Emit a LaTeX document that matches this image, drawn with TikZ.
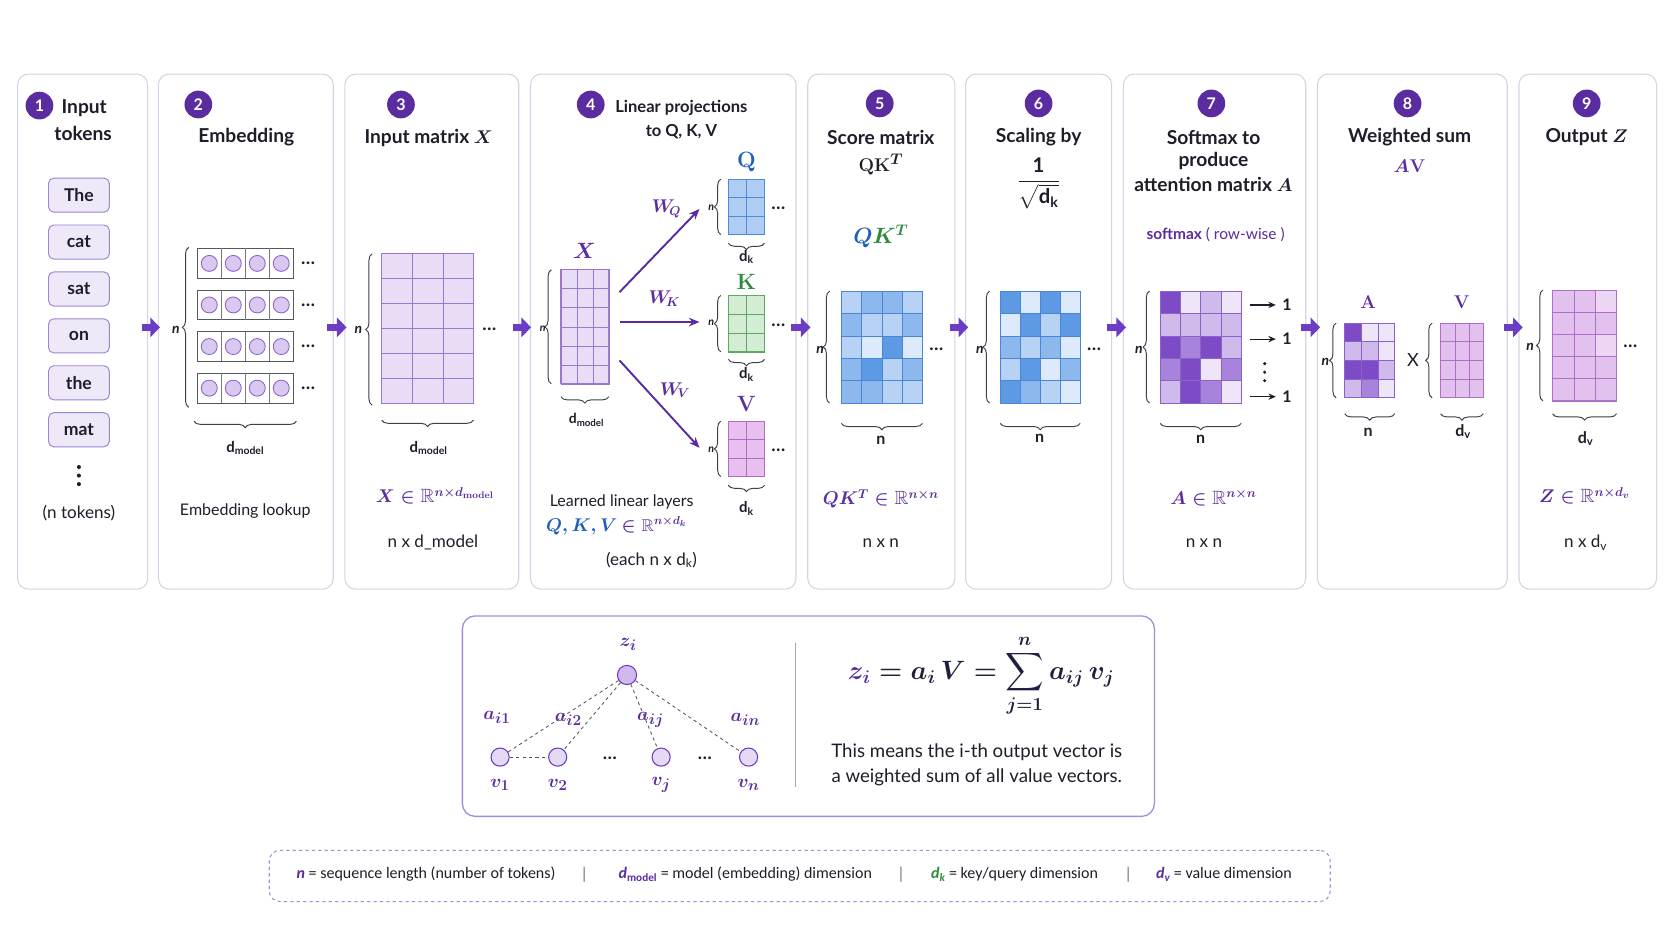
\documentclass[tikz,border=0pt]{standalone}
\usepackage{amsmath,amssymb,bm}
\usepackage[no-math]{fontspec}
\setmainfont{Lato}
\newfontfamily\legfont{Carlito}
\usetikzlibrary{decorations.pathreplacing,arrows.meta,calc}
\definecolor{pdark}{HTML}{5A2CA0}
\definecolor{ptext}{HTML}{5B2D9E}
\definecolor{qblue}{HTML}{1F5FBF}
\definecolor{kgreen}{HTML}{2E8B3E}
\definecolor{ink}{HTML}{1E1E2A}
\definecolor{navy}{HTML}{1F2040}
\definecolor{panelbd}{HTML}{D6D4E4}
\definecolor{arrowp}{HTML}{6B3CC6}
\definecolor{tokfill}{HTML}{EEE8F9}
\definecolor{tokbd}{HTML}{9D85D6}
\definecolor{boxbd}{HTML}{A58AE0}
\definecolor{bh0}{HTML}{DDEAFB}\definecolor{bh1}{HTML}{B7D2F4}\definecolor{bh2}{HTML}{8DB8EE}\definecolor{bh3}{HTML}{5E9AE3}\definecolor{bhbd}{HTML}{4A86D8}
\definecolor{ph0}{HTML}{EEE6F8}\definecolor{ph1}{HTML}{D0BAEC}\definecolor{ph2}{HTML}{A883DB}\definecolor{ph3}{HTML}{7D4BC6}\definecolor{phbd}{HTML}{8A63C9}
\definecolor{xh0}{HTML}{E9DDF6}\definecolor{xhbd}{HTML}{9A78CF}
\definecolor{qh0}{HTML}{AFCDF2}\definecolor{qhbd}{HTML}{4D8AD9}
\definecolor{kh0}{HTML}{D4EBD4}\definecolor{khbd}{HTML}{5FA85F}
\definecolor{vh0}{HTML}{E8C0EF}\definecolor{vhbd}{HTML}{B36BC5}
\definecolor{pk0}{HTML}{EDD6F4}\definecolor{pk1}{HTML}{E2C1EF}\definecolor{pk2}{HTML}{D6A9E8}\definecolor{pkbd}{HTML}{B070C8}
\newcommand{\heat}[9]{%
  \pgfmathsetmacro\cw{#4/#6}\pgfmathsetmacro\ch{#5/#7}%
  \foreach \rowv [count=\ri from 0] in {#9} {%
    \foreach \v [count=\ci from 0] in \rowv {%
      \filldraw[fill=#8\v, draw=#8bd, line width=0.6pt] ({#2+\ci*\cw},{#3+\ri*\ch}) rectangle ++(\cw,\ch);
    }
  }
  \node[draw=#8bd, line width=1pt, inner sep=0, outer sep=0, anchor=north west, minimum width=#4pt, minimum height=#5pt] (#1) at (#2,#3) {};
}
\newcommand{\mydots}{\textbf{…}}
\begin{document}
\begin{tikzpicture}[x=1pt,y=-1pt,
  panel/.style={draw=panelbd, line width=1pt, rounded corners=10pt, fill=white, anchor=north west, inner sep=0, minimum height=483pt},
  badge/.style={circle, fill=pdark, text=white, font=\fontsize{15}{15}\selectfont\bfseries, minimum size=26pt, inner sep=0},
  title/.style={text=ink, font=\fontsize{18}{20}\selectfont\bfseries\boldmath, inner sep=0},
  lbl/.style={text=ink, font=\fontsize{16}{19}\selectfont, inner sep=0},
  small/.style={text=ink, font=\fontsize{14}{16}\selectfont\bfseries, inner sep=0},
  nlbl/.style={text=ink, font=\fontsize{13}{13}\selectfont\bfseries\itshape, inner sep=0},
  tnlbl/.style={text=ink, font=\fontsize{10}{10}\selectfont\bfseries\itshape, inner sep=0},
  dots/.style={text=ink, font=\fontsize{17}{17}\selectfont, inner sep=0},
  mth/.style={text=ptext, font=\fontsize{18}{20}\selectfont\boldmath, inner sep=0},
  tok/.style={draw=tokbd, fill=tokfill, rounded corners=5pt, minimum width=57pt, minimum height=32pt, line width=0.9pt, text=ink, font=\fontsize{16.5}{16}\selectfont\bfseries, inner sep=0},
  brace/.style={decorate, decoration={brace, amplitude=6pt}, draw=ink!85, line width=0.9pt},
  fat/.style={draw=arrowp, line width=7pt, -{Triangle[length=9pt,width=18pt]}},
  warrow/.style={draw=pdark, line width=1.8pt, -{Stealth[length=10pt,width=8pt]}},
  leg/.style={font=\legfont\fontsize{15}{16}\selectfont, text=ink, inner sep=0, anchor=west},
  sep/.style={font=\legfont\fontsize{16}{16}\selectfont, text=ink!60, inner sep=0}
]
\useasboundingbox (0,0) rectangle (1568,882);
\fill[white] (0,0) rectangle (1568,882);

% panels
\node[panel, minimum width=122pt] (p1) at (16,69) {};
\node[panel, minimum width=164pt] (p2) at (148,69) {};
\node[panel, minimum width=163pt] (p3) at (323,69) {};
\node[panel, minimum width=249pt] (p4) at (497,69) {};
\node[panel, minimum width=138pt] (p5) at (757,69) {};
\node[panel, minimum width=137pt] (p6) at (905,69) {};
\node[panel, minimum width=171pt] (p7) at (1053,69) {};
\node[panel, minimum width=178pt] (p8) at (1235,69) {};
\node[panel, minimum width=129pt] (p9) at (1424,69) {};

% fat arrows
\foreach \a/\b [count=\i] in {133/150,307/325,481/498,742/760,891/908,1038/1056,1220/1238,1410/1428} {
  \coordinate (fa\i) at (\a,307); \coordinate (fb\i) at (\b,307);
  \draw[fat] (fa\i) -- (fb\i);
}

% ---------- panel 1
\node[badge] (b1) at (37,99) {1};
\node[title] (t1a) at (79,101) {Input};
\node[title] (t1b) at (78,125) {tokens};
\foreach \w/\y [count=\i] in {The/183,cat/227,sat/271,on/315,the/359,mat/403} {
  \node[tok] (tk\i) at (74,\y) {\w};
}
\foreach \yy in {438,446,454} { \fill[ink] (74,\yy) circle (1.9); }
\node[lbl] (ntok) at (74,481) {(n tokens)};

% ---------- panel 2
\node[badge] (b2) at (186,98) {2};
\node[title] (t2) at (231,129) {Embedding};
\foreach \yc [count=\i] in {247,286,325,364} {
  \node[draw=ink!75, fill=white, line width=0.9pt, minimum width=90pt, minimum height=28pt, inner sep=0] (er\i) at (230,\yc) {};
  \foreach \k in {1,2,3} { \draw[ink!60, line width=0.6pt] ({185+22.5*\k},{\yc-14}) -- ({185+22.5*\k},{\yc+14}); }
  \foreach \k in {0,1,2,3} { \filldraw[fill=ph1!80, draw=phbd, line width=0.8pt] ({196.25+22.5*\k},\yc) circle (7.5); }
  \node[dots] (ed\i) at (289,\yc) {\mydots};
}
\draw[brace] (177,382) -- (177,232);
\node[nlbl] (n2) at (165,309) {n};
\draw[brace] (278,395) -- (182,395);
\node[small] (dm2) at (230,420) {d\textsubscript{model}};
\node[lbl, font=\fontsize{15}{18}\selectfont] (el) at (230,479) {Embedding lookup};

% ---------- panel 3
\node[badge] (b3) at (376,98) {3};
\node[title] (t3) at (402,129) {Input matrix $\bm{X}$};
\heat{xm3}{358}{238}{86}{140}{3}{6}{xh}{{0,0,0},{0,0,0},{0,0,0},{0,0,0},{0,0,0},{0,0,0}}
\draw[brace] (349,380) -- (349,238);
\node[nlbl] (n3) at (336,309) {n};
\node[dots] (d3) at (459,309) {\mydots};
\draw[brace] (444,394) -- (358,394);
\node[small] (dm3) at (402,420) {d\textsubscript{model}};
\node[mth] (e3) at (408,465) {$\bm{X} \in \mathbb{R}^{n\times d_{\mathrm{model}}}$};
\node[lbl] (s3) at (406,509) {n x d\_model};

% ---------- panel 4
\node[badge] (b4) at (554,98) {4};
\node[title, font=\fontsize{15.5}{18}\selectfont\bfseries] (t4a) at (639,101) {Linear projections};
\node[title, font=\fontsize{15.5}{18}\selectfont\bfseries] (t4b) at (639,123) {to Q, K, V};
\node[mth, font=\fontsize{20}{20}\selectfont\boldmath] (xl) at (548,235) {$\bm{X}$};
\heat{xm}{526}{253}{45}{107}{3}{6}{xh}{{0,0,0},{0,0,0},{0,0,0},{0,0,0},{0,0,0},{0,0,0}}
\draw[brace] (517,360) -- (517,253);
\node[tnlbl] (n4) at (509,308) {n};
\draw[brace] (571,372) -- (526,372);
\node[small, font=\fontsize{13}{15}\selectfont\bfseries] (dm4) at (550,394) {d\textsubscript{model}};
\coordinate (wq0) at (581,274); \coordinate (wq1) at (656,196);
\coordinate (wk0) at (581,302); \coordinate (wk1) at (656,302);
\coordinate (wv0) at (581,338); \coordinate (wv1) at (656,420);
\draw[warrow] (wq0) -- (wq1);
\draw[warrow] (wk0) -- (wk1);
\draw[warrow] (wv0) -- (wv1);
\node[mth, font=\fontsize{17}{17}\selectfont\boldmath] (wql) at (625,196) {$\bm{W}_{\!\bm{Q}}$};
\node[mth, font=\fontsize{17}{17}\selectfont\boldmath] (wkl) at (623,280) {$\bm{W}_{\!\bm{K}}$};
\node[mth, font=\fontsize{17}{17}\selectfont\boldmath] (wvl) at (633,366) {$\bm{W}_{\!\bm{V}}$};
% Q
\node[text=qblue, font=\fontsize{20}{20}\selectfont, inner sep=0] (ql) at (700,152) {$\mathbf{Q}$};
\heat{qm}{683}{168}{34}{52}{2}{3}{qh}{{0,0},{0,0},{0,0}}
\draw[brace] (676,220) -- (676,168);
\node[tnlbl] (nq) at (667,195) {n};
\node[dots] (dq) at (730,195) {\mydots};
\draw[brace] (717,228) -- (683,228);
\node[small] (dkq) at (700,241) {d\textsubscript{k}};
% K
\node[text=kgreen, font=\fontsize{20}{20}\selectfont, inner sep=0] (kl) at (700,264) {$\mathbf{K}$};
\heat{km}{683}{277}{34}{53}{2}{3}{kh}{{0,0},{0,0},{0,0}}
\draw[brace] (676,330) -- (676,277);
\node[tnlbl] (nk) at (667,303) {n};
\node[dots] (dk) at (730,305) {\mydots};
\draw[brace] (717,337) -- (683,337);
\node[small] (dkk) at (700,351) {d\textsubscript{k}};
% V
\node[text=ptext, font=\fontsize{20}{20}\selectfont, inner sep=0] (vl) at (700,379) {$\mathbf{V}$};
\heat{vm}{683}{395}{34}{52}{2}{3}{vh}{{0,0},{0,0},{0,0}}
\draw[brace] (676,447) -- (676,395);
\node[tnlbl] (nv) at (667,422) {n};
\node[dots] (dv) at (730,422) {\mydots};
\draw[brace] (717,455) -- (683,455);
\node[small] (dkv) at (700,477) {d\textsubscript{k}};
\node[lbl, font=\fontsize{15}{18}\selectfont] (ll) at (583,471) {Learned linear layers};
\node[mth, font=\fontsize{16}{18}\selectfont\boldmath] (qkv) at (578,493) {{\color{qblue}$\bm{Q}, \bm{K}, \bm{V}$} $\in \mathbb{R}^{n\times d_k}$};
\node[lbl] (each) at (611,525) {(each n x d\textsubscript{k})};

% ---------- panel 5
\node[badge] (b5) at (825,97) {5};
\node[title] (t5a) at (826,129) {Score matrix};
\node[title, font=\fontsize{19}{20}\selectfont\boldmath] (t5b) at (826,154) {$\mathbf{QK}^{\bm{T}}$};
\node[font=\fontsize{20}{20}\selectfont\boldmath, inner sep=0] (qkt) at (826,222) {{\color{qblue}$\bm{Q}$}{\color{kgreen}$\bm{K}^{\bm{T}}$}};
\heat{sm5}{789}{273}{76}{105}{4}{5}{bh}{{1,2,2,1},{2,1,1,2},{1,0,3,0},{2,3,1,2},{2,2,1,1}}
\draw[brace] (778,378) -- (778,273);
\node[nlbl] (n5) at (769,328) {n};
\node[dots] (d5) at (878,328) {\mydots};
\draw[brace] (865,397) -- (789,397);
\node[small, font=\fontsize{15}{16}\selectfont\bfseries] (nb5) at (826,413) {n};
\node[mth] (e5) at (826,468) {$\bm{QK^T} \in \mathbb{R}^{n\times n}$};
\node[lbl] (s5) at (826,509) {n x n};

% ---------- panel 6
\node[badge] (b6) at (974,97) {6};
\node[title] (t6) at (974,129) {Scaling by};
\node[text=ink, font=\fontsize{19}{20}\selectfont\boldmath, inner sep=0] (fr) at (974,172) {$\displaystyle\frac{\text{\bfseries 1}}{\sqrt{\text{\bfseries d}_{\text{\bfseries k}}}}$};
\heat{sm6}{938}{273}{75}{105}{4}{5}{bh}{{3,0,3,0},{0,3,1,3},{2,1,2,0},{1,3,0,2},{3,2,1,0}}
\draw[brace] (928,378) -- (928,273);
\node[nlbl] (n6) at (919,328) {n};
\node[dots] (d6) at (1026,328) {\mydots};
\draw[brace] (1013,397) -- (938,397);
\node[small, font=\fontsize{15}{16}\selectfont\bfseries] (nb6) at (975,411) {n};

% ---------- panel 7
\node[badge] (b7) at (1136,97) {7};
\node[title] (t7a) at (1138,129) {Softmax to};
\node[title] (t7b) at (1138,151) {produce};
\node[title] (t7c) at (1138,173) {attention matrix $\bm{A}$};
\node[text=ptext, font=\fontsize{14.5}{16}\selectfont, inner sep=0] (smx) at (1140,220) {\textbf{softmax} ( row-wise )};
\heat{sm7}{1088}{273}{76}{105}{4}{5}{ph}{{3,0,1,0},{1,1,1,1},{3,2,3,1},{2,3,0,2},{1,3,2,0}}
\draw[brace] (1078,378) -- (1078,273);
\node[nlbl] (n7) at (1068,328) {n};
\foreach \yy [count=\i] in {286,318,372} {
  \node[lbl, font=\fontsize{15}{16}\selectfont\bfseries] (one\i) at (1207,\yy) {1};
  \coordinate (ra\i) at (1172,\yy);
  \draw[-{Stealth[length=7pt,width=6pt]}, line width=1.1pt, ink] (ra\i) -- ([xshift=-6pt]one\i.west);
}
\foreach \yy in {341,349,357} { \fill[ink] (1186,\yy) circle (1.6); }
\draw[brace] (1164,397) -- (1088,397);
\node[small, font=\fontsize{15}{16}\selectfont\bfseries] (nb7) at (1126,412) {n};
\node[mth] (e7) at (1138,467) {$\bm{A} \in \mathbb{R}^{n\times n}$};
\node[lbl] (s7) at (1129,509) {n x n};

% ---------- panel 8
\node[badge] (b8) at (1320,97) {8};
\node[title] (t8) at (1322,129) {Weighted sum};
\node[mth, font=\fontsize{19}{20}\selectfont\boldmath] (av) at (1322,156) {$\bm{A}\mathbf{V}$};
\node[text=ptext, font=\fontsize{19}{20}\selectfont, inner sep=0] (al8) at (1283,283) {$\mathbf{A}$};
\heat{am8}{1261}{303}{47}{70}{3}{4}{ph}{{3,0,0},{1,1,0},{3,3,1},{1,2,0}}
\draw[brace] (1253,373) -- (1253,303);
\node[nlbl] (n8) at (1243,339) {n};
\node[lbl, font=\fontsize{17}{17}\selectfont] (times) at (1325,338) {X};
\node[text=ptext, font=\fontsize{19}{20}\selectfont, inner sep=0] (vl8) at (1371,283) {$\mathbf{V}$};
\heat{vm8}{1351}{303}{40}{70}{3}{4}{pk}{{1,1,1},{1,1,1},{1,1,1},{1,1,1}}
\draw[brace] (1343,373) -- (1343,303);
\draw[brace] (1308,388) -- (1261,388);
\node[small, font=\fontsize{15}{16}\selectfont\bfseries] (nb8) at (1283,405) {n};
\draw[brace] (1391,388) -- (1351,388);
\node[small, font=\fontsize{15}{16}\selectfont\bfseries] (dv8) at (1372,405) {d\textsubscript{v}};

% ---------- panel 9
\node[badge] (b9) at (1488,97) {9};
\node[title] (t9) at (1488,129) {Output $\bm{Z}$};
\heat{zm9}{1456}{272}{60}{104}{3}{5}{pk}{{1,1,0},{1,1,1},{1,1,0},{1,1,1},{1,1,1}}
\draw[brace] (1447,376) -- (1447,272);
\node[nlbl] (n9) at (1435,325) {n};
\node[dots] (d9) at (1529,325) {\mydots};
\draw[brace] (1516,388) -- (1456,388);
\node[small, font=\fontsize{15}{16}\selectfont\bfseries] (dv9) at (1487,411) {d\textsubscript{v}};
\node[mth] (e9) at (1486,465) {$\bm{Z} \in \mathbb{R}^{n\times d_v}$};
\node[lbl] (s9) at (1487,509) {n x d\textsubscript{v}};

% ---------- bottom box
\node[draw=boxbd, line width=1.2pt, rounded corners=12pt, fill=white, anchor=north west, inner sep=0, minimum width=649pt, minimum height=188pt] (bb) at (433,577) {};
\node[circle, fill=ph1, draw=arrowp, line width=1pt, minimum size=18pt, inner sep=0] (zi) at (588,633) {};
\foreach \xx/\nm in {469/v1,523/v2,620/vj,702/vn} {
  \node[circle, fill=ph0!70!ph1, draw=arrowp, line width=1pt, minimum size=17pt, inner sep=0] (\nm) at (\xx,710) {};
}
\draw[dashed, ink!75, line width=0.8pt] (zi) -- (v1);
\draw[dashed, ink!75, line width=0.8pt] (zi) -- (v2);
\draw[dashed, ink!75, line width=0.8pt] (zi) -- (vj);
\draw[dashed, ink!75, line width=0.8pt] (zi) -- (vn);
\draw[dashed, ink!75, line width=0.8pt] (v1) -- (v2);
\node[mth, font=\fontsize{19}{20}\selectfont\boldmath] (zil) at (589,604) {$z_i$};
\node[mth, font=\fontsize{19}{20}\selectfont\boldmath] (v1l) at (469,736) {$\bm{v}_1$};
\node[mth, font=\fontsize{19}{20}\selectfont\boldmath] (v2l) at (523,736) {$\bm{v}_2$};
\node[mth, font=\fontsize{19}{20}\selectfont\boldmath] (vjl) at (620,736) {$\bm{v}_j$};
\node[mth, font=\fontsize{19}{20}\selectfont\boldmath] (vnl) at (702,736) {$\bm{v}_n$};
\node[dots] (gd1) at (572,711) {\mydots};
\node[dots] (gd2) at (661,711) {\mydots};
\node[mth, font=\fontsize{19}{20}\selectfont\boldmath] (a1) at (466,673) {$\bm{a}_{i1}$};
\node[mth, font=\fontsize{19}{20}\selectfont\boldmath] (a2) at (533,675) {$\bm{a}_{i2}$};
\node[mth, font=\fontsize{19}{20}\selectfont\boldmath] (aj) at (610,675) {$\bm{a}_{ij}$};
\node[mth, font=\fontsize{19}{20}\selectfont\boldmath] (an) at (699,675) {$\bm{a}_{in}$};
\coordinate (sp0) at (746,603); \coordinate (sp1) at (746,738);
\draw[ink!40, line width=1pt] (sp0) -- (sp1);
\node[text=navy, font=\fontsize{25}{28}\selectfont\boldmath, inner sep=0] (eq) at (920,634) {$\displaystyle {\color{ptext}\bm{z_i}} = \bm{a_i}\,\bm{V} = \sum_{j=1}^{n} \bm{a_{ij}}\,\bm{v_j}$};
\node[lbl, font=\fontsize{17.5}{20}\selectfont] (ex1) at (916,705) {This means the i-th output vector is};
\node[lbl, font=\fontsize{17.5}{20}\selectfont] (ex2) at (916,729) {a weighted sum of all value vectors.};

% ---------- legend
\node[draw=boxbd, dashed, line width=1pt, rounded corners=10pt, anchor=north west, inner sep=0, minimum width=995pt, minimum height=48pt] (lg) at (252,797) {};
\node[leg] (lg1) at (278,820) {{\color{ptext}\bfseries\itshape n} = sequence length (number of tokens)};
\node[sep] (s1) at (548,820) {|};
\node[leg] (lg2) at (580,820) {{\color{ptext}\bfseries\itshape d\textsubscript{\upshape model}} = model (embedding) dimension};
\node[sep] (s2) at (845,820) {|};
\node[leg] (lg3) at (873,820) {{\color{kgreen}\bfseries\itshape d\textsubscript{k}} = key/query dimension};
\node[sep] (s3x) at (1058,820) {|};
\node[leg] (lg4) at (1084,820) {{\color{ptext}\bfseries\itshape d\textsubscript{v}} = value dimension};
\end{tikzpicture}
\end{document}
